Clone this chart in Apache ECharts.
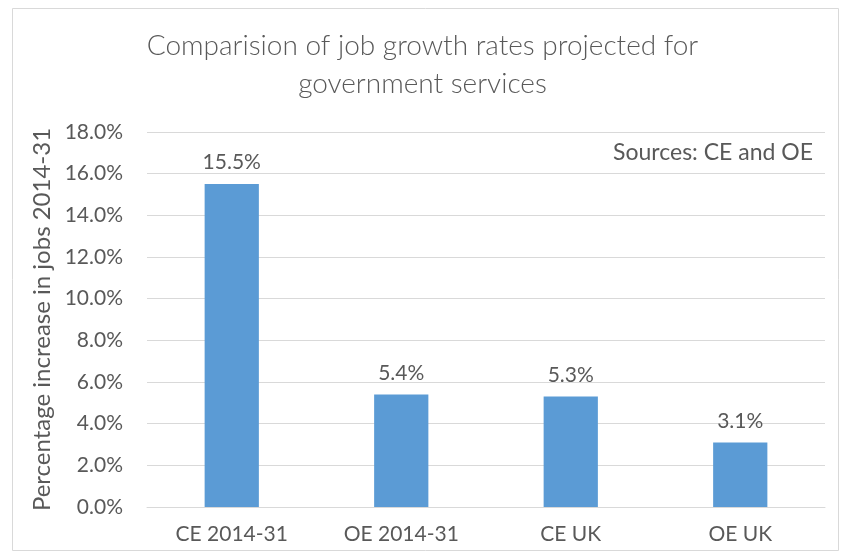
<!DOCTYPE html>
<html>
<head>
<meta charset="utf-8">
<script src="https://cdn.jsdelivr.net/npm/echarts@6/dist/echarts.min.js"></script>
<style>
  html, body { margin: 0; padding: 0; background: #ffffff; }
  #chart { width: 845px; height: 556px; }
</style>
</head>
<body>
<div id="chart"></div>
<script>
// Projected job growth for government services, 2014-31
const categories = ['CE 2014-31', 'OE 2014-31', 'CE UK', 'OE UK'];
const growthPct = [15.5, 5.4, 5.3, 3.1];
const yTicks = [0, 2, 4, 6, 8, 10, 12, 14, 16, 18];

const FONT = 'Lato';
const TEXT = '#595959';

const chart = echarts.init(document.getElementById('chart'));
chart.setOption({
  backgroundColor: '#ffffff',
  animation: false,
  title: {
    text: 'Comparision of job growth rates projected for\ngovernment services',
    left: 'center',
    top: 22,
    textStyle: { fontFamily: FONT, fontWeight: 300, fontSize: 28, color: TEXT, lineHeight: 38 }
  },
  graphic: [
    {
      type: 'rect',
      shape: { x: 12.5, y: 8.5, width: 826, height: 542 },
      style: { fill: 'none', stroke: '#d9d9d9', lineWidth: 1 },
      silent: true
    },
    {
      type: 'text',
      right: 32,
      top: 141,
      style: { text: 'Sources: CE and OE', fontFamily: FONT, fontSize: 23, fill: TEXT }
    }
  ],
  grid: { left: 147, right: 20, top: 132, bottom: 49 },
  xAxis: {
    type: 'category',
    data: categories,
    axisLine: { show: true, lineStyle: { color: '#d9d9d9', width: 1 } },
    axisTick: { show: false },
    axisLabel: { fontFamily: FONT, fontSize: 21, color: TEXT, margin: 17 }
  },
  yAxis: {
    type: 'value',
    min: yTicks[0],
    max: yTicks[yTicks.length - 1],
    interval: 2,
    name: 'Percentage increase in jobs 2014-31',
    nameLocation: 'middle',
    nameGap: 93,
    nameTextStyle: { fontFamily: FONT, fontSize: 24, color: TEXT },
    axisLine: { show: false },
    axisTick: { show: false },
    axisLabel: {
      fontFamily: FONT, fontSize: 21, color: TEXT, margin: 24,
      formatter: v => v.toFixed(1) + '%'
    },
    splitLine: { lineStyle: { color: '#d9d9d9', width: 1 } }
  },
  series: [{
    type: 'bar',
    data: growthPct,
    barWidth: '32%',
    itemStyle: { color: '#5b9bd5' },
    label: {
      show: true,
      position: 'top',
      distance: 11,
      fontFamily: FONT, fontSize: 21, color: TEXT,
      formatter: p => p.value.toFixed(1) + '%'
    }
  }]
});
</script>
</body>
</html>
